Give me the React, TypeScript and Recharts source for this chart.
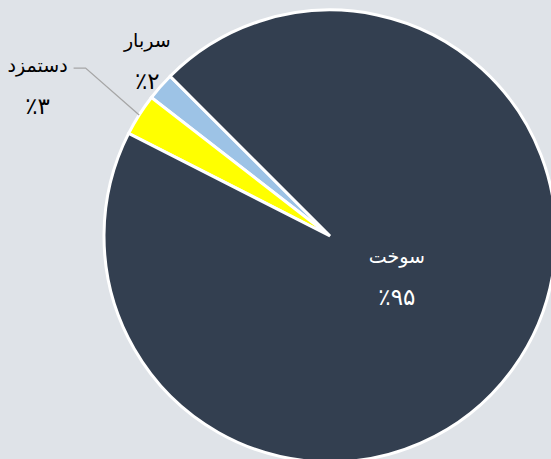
import React from 'react';
import { PieChart, Pie, Cell } from 'recharts';

const categories = ['سربار', 'دستمزد', 'سوخت'];
const values = [2, 3, 95];
const colors = ['#9DC3E6', '#FFFF00', '#333F50'];

const data = categories.map((name, i) => ({ name, value: values[i] }));

const faDigits = '۰۱۲۳۴۵۶۷۸۹';
const toFa = (n: number) => String(n).replace(/[0-9]/g, (d) => faDigits[Number(d)]);

const RAD = Math.PI / 180;
// label placement: [angle offset from mid angle (deg), radius factor of outerRadius]
const labelPlacement = [
  { dAngle: -2.6, rf: 1.124 },
  { dAngle: 5.1, rf: 1.456 },
  { dAngle: 5, rf: 0.345 },
];

const renderLabel = (props: any) => {
  const { cx, cy, midAngle, outerRadius, index, name, value } = props;
  const pl = labelPlacement[index];
  const a = (midAngle + pl.dAngle) * RAD;
  const r = outerRadius * pl.rf;
  const x = cx + r * Math.cos(a);
  const y = cy - r * Math.sin(a);
  const fill = index === 2 ? '#FFFFFF' : '#000000';
  const nameY = y - 20;
  const valY = y + 21;
  let line = null;
  if (index === 1) {
    const ma = midAngle * RAD;
    const ex = cx + outerRadius * Math.cos(ma);
    const ey = cy - outerRadius * Math.sin(ma);
    const ly = nameY + 3;
    line = (
      <polyline
        points={`${x + 36},${ly} ${x + 48},${ly} ${ex},${ey}`}
        fill="none"
        stroke="#A6A6A6"
        strokeWidth={1.3}
      />
    );
  }
  return (
    <g key={`lbl-${index}`}>
      {line}
      <text x={x} y={nameY} textAnchor="middle" dominantBaseline="central" fill={fill}
        style={{ fontFamily: 'DejaVu Sans', fontSize: 19 }}>
        {name}
      </text>
      <text x={x} y={valY} textAnchor="middle" dominantBaseline="central" fill={fill}
        style={{ fontFamily: 'DejaVu Sans', fontSize: 23 }}>
        {'٪' + toFa(value)}
      </text>
    </g>
  );
};

export default function App() {
  return (
    <div style={{ position: 'absolute', left: 0, top: 0, width: 551, height: 459, background: '#DFE3E8', overflow: 'hidden' }}>
      <PieChart width={551} height={459} margin={{ top: 0, right: 0, bottom: 0, left: 0 }}>
        <Pie
          data={data}
          dataKey="value"
          nameKey="name"
          cx={330}
          cy={236}
          outerRadius={226}
          startAngle={135}
          endAngle={495}
          stroke="#FFFFFF"
          strokeWidth={3}
          label={renderLabel}
          labelLine={false}
          isAnimationActive={false}
        >
          {data.map((d, i) => (
            <Cell key={d.name} fill={colors[i]} />
          ))}
        </Pie>
      </PieChart>
    </div>
  );
}
